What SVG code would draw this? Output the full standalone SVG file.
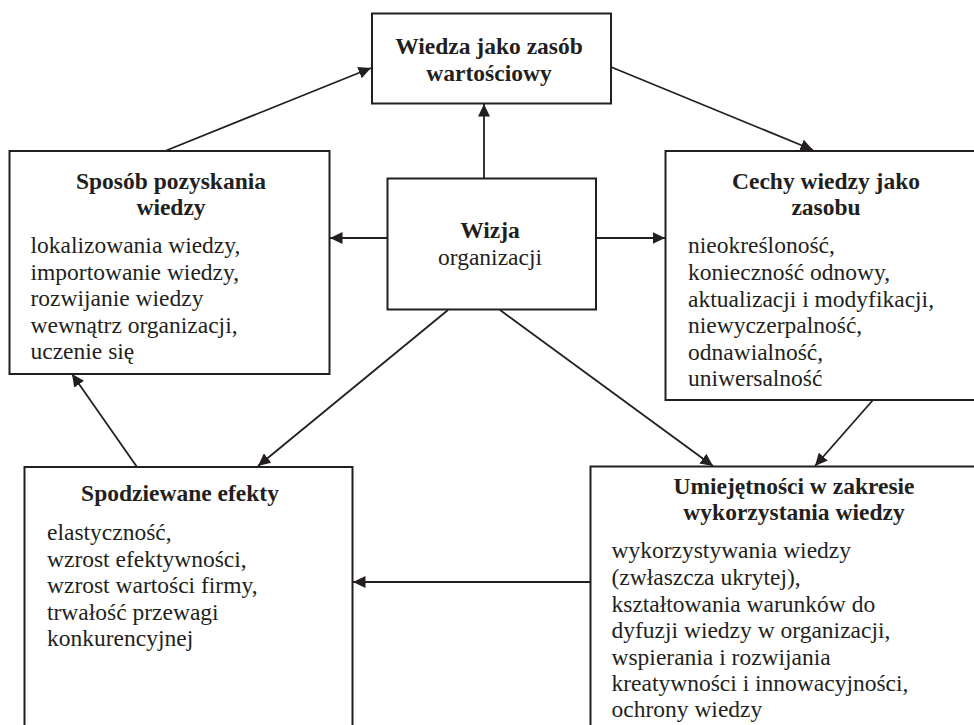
<svg xmlns="http://www.w3.org/2000/svg" width="974" height="725" viewBox="0 0 974 725">
<defs>
<marker id="arr" markerUnits="userSpaceOnUse" markerWidth="13" markerHeight="12" refX="12.5" refY="6" orient="auto">
<path d="M0,0 L12.5,6 L0,12 z" fill="#231f20"/>
</marker>
<style>
.box{fill:#fff;stroke:#231f20;stroke-width:2}
text{font-family:'Liberation Serif',serif;font-size:23.5px;fill:#231f20}
.b{font-weight:bold;text-anchor:middle}
.c{text-anchor:middle}
.con line{stroke:#231f20;stroke-width:1.8;marker-end:url(#arr)}
</style>
</defs>
<rect width="974" height="725" fill="#fff"/>
<g id="connectors" class="con">
<line x1="165" y1="151" x2="371" y2="68"/>
<line x1="611" y1="67" x2="813" y2="150"/>
<line x1="484" y1="178" x2="484" y2="104"/>
<line x1="387" y1="238" x2="330" y2="238"/>
<line x1="596" y1="238" x2="665" y2="238"/>
<line x1="448" y1="310" x2="258" y2="466"/>
<line x1="500" y1="310" x2="713" y2="466"/>
<line x1="873" y1="400" x2="815" y2="466"/>
<line x1="590" y1="582" x2="353" y2="582"/>
<line x1="137" y1="467" x2="72" y2="374"/>
</g>
<g id="wiedza" font-family="Liberation Serif">
<rect class="box" x="372" y="13.5" width="239" height="90"/>
<text class="b" x="489" y="54">Wiedza jako zasób</text>
<text class="b" x="489" y="81">wartościowy</text>
</g>
<g id="sposob" font-family="Liberation Serif">
<rect class="box" x="9.5" y="151" width="320" height="223"/>
<text class="b" x="171" y="189">Sposób pozyskania</text>
<text class="b" x="171" y="215">wiedzy</text>
<text x="30.5" y="253">lokalizowania wiedzy,</text>
<text x="30.5" y="280">importowanie wiedzy,</text>
<text x="30.5" y="306">rozwijanie wiedzy</text>
<text x="30.5" y="333">wewnątrz organizacji,</text>
<text x="30.5" y="359">uczenie się</text>
</g>
<g id="wizja" font-family="Liberation Serif">
<rect class="box" x="387.5" y="178.5" width="208.5" height="131"/>
<text class="b" x="490" y="238">Wizja</text>
<text class="c" x="490" y="265">organizacji</text>
</g>
<g id="cechy" font-family="Liberation Serif">
<rect class="box" x="665.5" y="151" width="322" height="249"/>
<text class="b" x="826" y="189">Cechy wiedzy jako</text>
<text class="b" x="826" y="215">zasobu</text>
<text x="688" y="253">nieokreśloność,</text>
<text x="688" y="280">konieczność odnowy,</text>
<text x="688" y="306.5">aktualizacji i modyfikacji,</text>
<text x="688" y="333">niewyczerpalność,</text>
<text x="688" y="359.5">odnawialność,</text>
<text x="688" y="386">uniwersalność</text>
</g>
<g id="efekty" font-family="Liberation Serif">
<rect class="box" x="24.5" y="467" width="328" height="300"/>
<text class="b" x="180" y="500.5">Spodziewane efekty</text>
<text x="47" y="540">elastyczność,</text>
<text x="47" y="566.5">wzrost efektywności,</text>
<text x="47" y="593">wzrost wartości firmy,</text>
<text x="47" y="619.5">trwałość przewagi</text>
<text x="47" y="646">konkurencyjnej</text>
</g>
<g id="umiejetnosci" font-family="Liberation Serif">
<rect class="box" x="590.5" y="466.5" width="410" height="300"/>
<text class="b" x="794" y="494">Umiejętności w zakresie</text>
<text class="b" x="794" y="520">wykorzystania wiedzy</text>
<text x="611.5" y="558">wykorzystywania wiedzy</text>
<text x="611.5" y="585">(zwłaszcza ukrytej),</text>
<text x="611.5" y="611.5">kształtowania warunków do</text>
<text x="611.5" y="638">dyfuzji wiedzy w organizacji,</text>
<text x="611.5" y="664.5">wspierania i rozwijania</text>
<text x="611.5" y="691">kreatywności i innowacyjności,</text>
<text x="611.5" y="717">ochrony wiedzy</text>
</g>
</svg>
